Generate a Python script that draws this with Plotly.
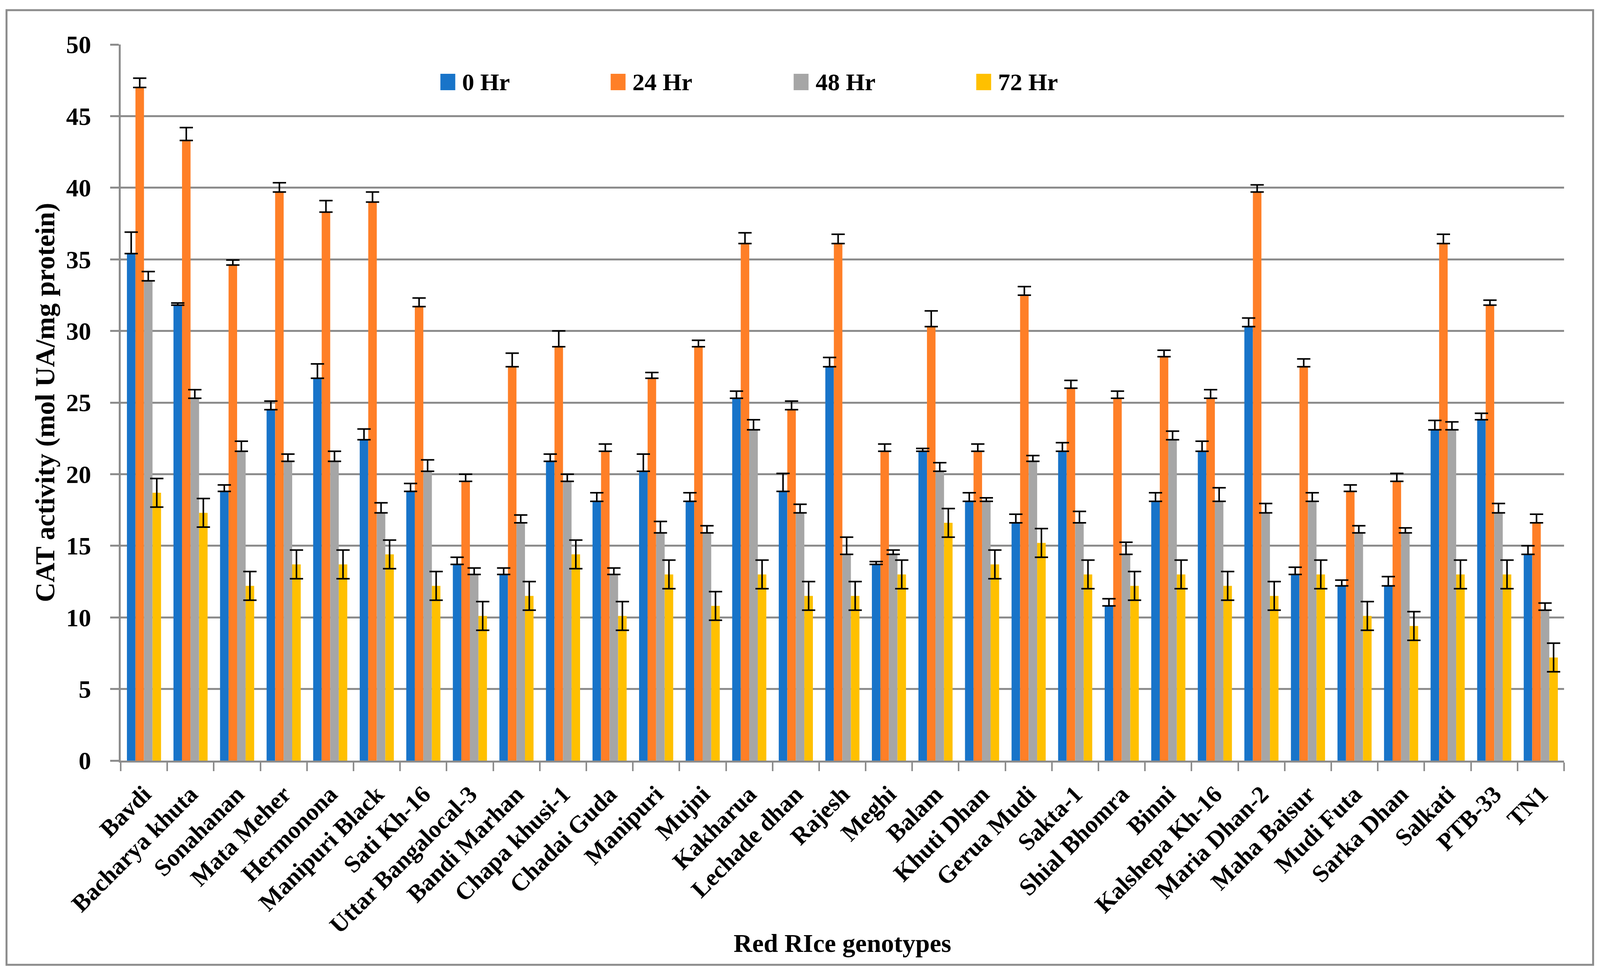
import plotly.graph_objects as go

GENOTYPES = ["Bavdi", "Bacharya khuta", "Sonahanan", "Mata Meher", "Hermonona",
             "Manipuri Black", "Sati Kh-16", "Uttar Bangalocal-3", "Bandi Marhan",
             "Chapa khusi-1", "Chadai Guda", "Manipuri", "Mujni", "Kakharua",
             "Lechade dhan", "Rajesh", "Meghi", "Balam", "Khuti Dhan", "Gerua Mudi",
             "Sakta-1", "Shial Bhomra", "Binni", "Kalshepa Kh-16", "Maria Dhan-2",
             "Maha Baisur", "Mudi Futa", "Sarka Dhan", "Salkati", "PTB-33", "TN1"]

SERIES = ["0 Hr", "24 Hr", "48 Hr", "72 Hr"]

hr0 = [35.4, 31.8, 18.8, 24.5, 26.7, 22.4, 18.8, 13.7, 13.0, 20.9, 18.1, 20.2, 18.1, 25.3,
       18.8, 27.5, 13.7, 21.6, 18.1, 16.6, 21.6, 10.8, 18.1, 21.6, 30.3, 13.0, 12.2, 12.2,
       23.1, 23.8, 14.4]
err0 = [1.5, 0.15, 0.45, 0.6, 1.0, 0.75, 0.55, 0.5, 0.45, 0.5, 0.6, 1.2, 0.6, 0.5, 1.25,
        0.65, 0.2, 0.2, 0.6, 0.6, 0.6, 0.5, 0.6, 0.7, 0.6, 0.5, 0.4, 0.65, 0.65, 0.45, 0.6]
hr24 = [47.0, 43.3, 34.6, 39.7, 38.3, 39.0, 31.7, 19.5, 27.5, 28.9, 21.6, 26.7, 28.9, 36.1,
        24.5, 36.1, 21.6, 30.3, 21.6, 32.5, 26.0, 25.3, 28.2, 25.3, 39.7, 27.5, 18.8, 19.5,
        36.1, 31.8, 16.6]
err24 = [0.65, 0.9, 0.35, 0.65, 0.8, 0.7, 0.6, 0.5, 0.95, 1.1, 0.5, 0.4, 0.45, 0.75, 0.6,
         0.65, 0.5, 1.1, 0.5, 0.6, 0.55, 0.5, 0.45, 0.6, 0.5, 0.55, 0.45, 0.55, 0.65, 0.35, 0.6]
hr48 = [33.5, 25.3, 21.6, 20.9, 20.9, 17.3, 20.2, 13.0, 16.6, 19.5, 13.0, 15.9, 15.9, 23.1,
        17.3, 14.4, 14.4, 20.2, 18.1, 20.9, 16.6, 14.4, 22.4, 18.1, 17.3, 18.1, 15.9, 15.9,
        23.1, 17.3, 10.5]
err48 = [0.65, 0.6, 0.7, 0.5, 0.7, 0.7, 0.8, 0.45, 0.55, 0.5, 0.45, 0.8, 0.5, 0.7, 0.6,
         1.2, 0.3, 0.6, 0.25, 0.4, 0.8, 0.85, 0.6, 0.95, 0.65, 0.6, 0.5, 0.35, 0.55, 0.65, 0.5]
hr72 = [18.7, 17.3, 12.2, 13.7, 13.7, 14.4, 12.2, 10.1, 11.5, 14.4, 10.1, 13.0, 10.8, 13.0,
        11.5, 11.5, 13.0, 16.6, 13.7, 15.2, 13.0, 12.2, 13.0, 12.2, 11.5, 13.0, 10.1, 9.4,
        13.0, 13.0, 7.2]
err72 = [1.0, 1.0, 1.0, 1.0, 1.0, 1.0, 1.0, 1.0, 1.0, 1.0, 1.0, 1.0, 1.0, 1.0, 1.0, 1.0,
         1.0, 1.0, 1.0, 1.0, 1.0, 1.0, 1.0, 1.0, 1.0, 1.0, 1.0, 1.0, 1.0, 1.0, 1.0]

Y_TICKS = [0, 5, 10, 15, 20, 25, 30, 35, 40, 45, 50]
Y_TITLE = "CAT activity (mol UA/mg protein)"
X_TITLE = "Red RIce genotypes"

# ---- styling / layout constants ----
COLORS = ["#1874C9", "#FF7F27", "#A6A6A6", "#FFC000"]
GRID = "#8C8C8C"
FONT = "Liberation Serif"

REF_W = 4407          # width of the reference picture
W, H = 4096, 2492     # browser viewport actually available
SX = W / REF_W        # horizontal mapping reference px -> figure px


def fx(px):
    return px * SX


L, R_EDGE, T, B_EDGE = fx(332.5), fx(4308), 114, 1948
PW, PH = R_EDGE - L, B_EDGE - T


def xp(px_ref):
    return (fx(px_ref) - L) / PW


def yp(py):
    return (B_EDGE - py) / PH


values = [hr0, hr24, hr48, hr72]
errors = [err0, err24, err48, err72]

fig = go.Figure()
for i, name in enumerate(SERIES):
    fig.add_trace(go.Bar(x=GENOTYPES, y=values[i], name=name, offsetgroup=str(i),
                         marker=dict(color=COLORS[i], line=dict(width=0)),
                         showlegend=False))
# error bars drawn on top of all bars
for i, name in enumerate(SERIES):
    if i == 3:
        ey = dict(type="data", array=errors[i], symmetric=True,
                  color="black", thickness=4, width=17)
    else:
        ey = dict(type="data", array=errors[i], arrayminus=[0] * len(errors[i]),
                  symmetric=False, color="black", thickness=4, width=17)
    fig.add_trace(go.Bar(x=GENOTYPES, y=values[i], name=name, offsetgroup=str(i),
                         marker=dict(color="rgba(0,0,0,0)", line=dict(width=0)),
                         error_y=ey, showlegend=False, hoverinfo="skip"))

shapes = [dict(type="rect", xref="paper", yref="paper",
               x0=xp(18), x1=xp(4388), y0=yp(2471), y1=yp(26),
               line=dict(color=GRID, width=5), fillcolor="rgba(0,0,0,0)", layer="below")]
annotations = []
LEG_X = [1213, 1682, 2186, 2689]
for i, name in enumerate(SERIES):
    shapes.append(dict(type="rect", xref="paper", yref="paper",
                       x0=xp(LEG_X[i]), x1=xp(LEG_X[i] + 41), y0=yp(231), y1=yp(189),
                       line=dict(width=0), fillcolor=COLORS[i]))
    annotations.append(dict(xref="paper", yref="paper", x=xp(LEG_X[i] + 58), y=yp(210),
                            text=name, showarrow=False, xanchor="left", yanchor="middle",
                            font=dict(family=FONT, size=62, color="black", weight="bold")))

annotations.append(dict(xref="paper", yref="paper", x=xp(124), y=0.5, text=Y_TITLE,
                        textangle=-90, showarrow=False, xanchor="center", yanchor="middle",
                        font=dict(family=FONT, size=70, color="black", weight="bold")))
annotations.append(dict(xref="paper", yref="paper", x=0.5, y=yp(2415), text=X_TITLE,
                        showarrow=False, xanchor="center", yanchor="middle",
                        font=dict(family=FONT, size=66, color="black", weight="bold")))

fig.update_layout(
    width=W, height=H,
    margin=dict(l=L, r=W - R_EDGE, t=T, b=H - B_EDGE, autoexpand=False),
    paper_bgcolor="white", plot_bgcolor="white",
    barmode="group", bargap=0.267, bargroupgap=0,
    shapes=shapes, annotations=annotations,
    showlegend=False,
)
fig.update_xaxes(
    type="category", tickangle=-45, tickson="boundaries",
    ticks="outside", ticklen=22, tickwidth=4, tickcolor=GRID,
    showline=True, linecolor=GRID, linewidth=5,
    showgrid=False, ticklabelstandoff=20,
    tickfont=dict(family=FONT, size=62, color="black", weight="bold"),
)
fig.update_yaxes(
    range=[0, 50], tickvals=Y_TICKS,
    ticks="outside", ticklen=22, tickwidth=5, tickcolor=GRID,
    showline=True, linecolor=GRID, linewidth=5,
    showgrid=True, gridcolor=GRID, gridwidth=5, zeroline=False,
    ticklabelstandoff=36,
    tickfont=dict(family=FONT, size=64, color="black", weight="bold"),
)

# remove the default page margin so the figure sits flush in the viewport
NO_MARGIN_JS = """
document.body.style.margin = '0';
document.documentElement.style.overflow = 'hidden';
"""

fig.write_html("out.html", post_script=NO_MARGIN_JS,
               config={"displayModeBar": False})
